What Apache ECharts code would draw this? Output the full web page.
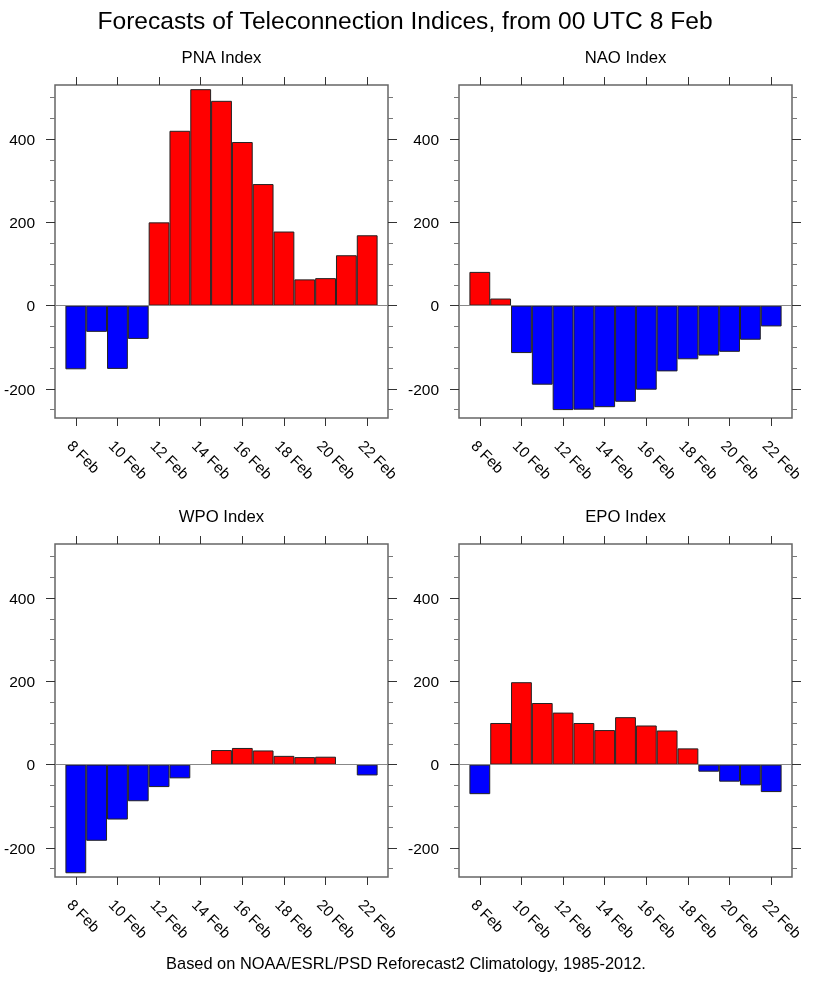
<!DOCTYPE html>
<html>
<head>
<meta charset="utf-8">
<style>
  html, body { margin: 0; padding: 0; background: #fff; }
  #chart { width: 821px; height: 984px; }
</style>
<script src="https://cdn.jsdelivr.net/npm/echarts@6/dist/echarts.min.js"></script>
</head>
<body>
<div id="chart"></div>
<script>
// blank ends pad the axis by one day each side
const days = ["", "8 Feb", "9 Feb", "10 Feb", "11 Feb", "12 Feb", "13 Feb", "14 Feb", "15 Feb",
  "16 Feb", "17 Feb", "18 Feb", "19 Feb", "20 Feb", "21 Feb", "22 Feb", ""];

const pna = [null, -153, -63, -152, -80, 200, 420, 520, 492, 393, 292, 178, 63, 66, 121, 169, null];
const nao = [null, 81, 17, -114, -190, -251, -250, -244, -231, -202, -158, -129, -120, -111, -82, -50, null];
const wpo = [null, -261, -183, -132, -88, -54, -33, null, 35, 40, 34, 21, 18, 19, null, -26, null];
const epo = [null, -71, 100, 198, 148, 125, 100, 83, 114, 94, 82, 39, -17, -41, -50, -66, null];

const majorTicks = [-200, 0, 200, 400];
const minorTicks = [-250, -150, -100, -50, 50, 100, 150, 250, 300, 350, 450, 500];
const yMin = -270;
const yMax = 530;

const font = "Liberation Sans";
const lineColor = "#666";

const panels = [
  { name: "PNA Index", data: pna, left: 55, top: 85 },
  { name: "NAO Index", data: nao, left: 459, top: 85 },
  { name: "WPO Index", data: wpo, left: 55, top: 544 },
  { name: "EPO Index", data: epo, left: 459, top: 544 }
];
const panelW = 333;
const panelH = 333;

let grids = [], xAxes = [], yAxes = [], series = [], titles = [];

titles.push({
  text: "Forecasts of Teleconnection Indices, from 00 UTC 8 Feb",
  left: 405, top: 10, padding: 0, textAlign: "center",
  textStyle: { fontFamily: font, fontSize: 24.6, fontWeight: "normal", color: "#000" }
});
titles.push({
  text: "Based on NOAA/ESRL/PSD Reforecast2 Climatology, 1985-2012.",
  left: 406, top: 956, padding: 0, textAlign: "center",
  textStyle: { fontFamily: font, fontSize: 16.4, fontWeight: "normal", color: "#000" }
});

function showEvenDay(i) {
  return i % 2 == 1;
}

panels.forEach(function(p, n) {
  titles.push({
    text: p.name,
    left: p.left + panelW / 2, top: p.top - 35, padding: 0, textAlign: "center",
    textStyle: { fontFamily: font, fontSize: 16.7, fontWeight: "normal", color: "#000" }
  });

  grids.push({
    left: p.left, top: p.top, width: panelW, height: panelH,
    show: true, borderColor: lineColor, borderWidth: 1.5, backgroundColor: "#fff"
  });

  // bottom and top date axes
  ["bottom", "top"].forEach(function(pos) {
    xAxes.push({
      type: "category",
      gridIndex: n,
      position: pos,
      data: days,
      boundaryGap: false,
      axisLine: { show: false, onZero: false },
      axisTick: {
        show: true, length: 8, interval: showEvenDay,
        lineStyle: { color: "#333", width: 1 }
      },
      axisLabel: {
        show: pos == "bottom",
        interval: showEvenDay,
        showMinLabel: true,
        showMaxLabel: true,
        rotate: -45,
        margin: 19,
        align: "left",
        verticalAlign: "top",
        lineHeight: 19,
        fontFamily: font, fontSize: 15.2, color: "#000"
      },
      splitLine: { show: false }
    });
  });

  // left/right major ticks, then left/right minor ticks
  [["left", majorTicks, 9], ["right", majorTicks, 9], ["left", minorTicks, 5], ["right", minorTicks, 5]].forEach(function(a, k) {
    yAxes.push({
      type: "value",
      gridIndex: n,
      position: a[0],
      min: yMin,
      max: yMax,
      axisLine: { show: false },
      axisTick: {
        show: true, length: a[2], customValues: a[1],
        lineStyle: { color: k < 2 ? "#333" : "#777", width: 1 }
      },
      axisLabel: {
        show: k == 0,
        customValues: a[1],
        margin: 20,
        verticalAlign: "top",
        lineHeight: 3,
        fontFamily: font, fontSize: 15.5, color: "#000"
      },
      splitLine: { show: false }
    });
  });

  series.push({
    type: "bar",
    name: p.name,
    xAxisIndex: n * 2,
    yAxisIndex: n * 4,
    data: p.data,
    barWidth: "100%",
    silent: true,
    animation: false,
    itemStyle: {
      color: function(d) {
        return d.value > 0 ? "#ff0000" : "#0000ff";
      },
      borderColor: "#222",
      borderWidth: 1
    },
    markLine: {
      silent: true,
      animation: false,
      symbol: "none",
      label: { show: false },
      lineStyle: { color: "#888", width: 1, type: "solid" },
      data: [{ yAxis: 0 }]
    }
  });
});

var myChart = echarts.init(document.getElementById("chart"));
myChart.setOption({
  backgroundColor: "#fff",
  animation: false,
  title: titles,
  grid: grids,
  xAxis: xAxes,
  yAxis: yAxes,
  series: series
});
</script>
</body>
</html>
